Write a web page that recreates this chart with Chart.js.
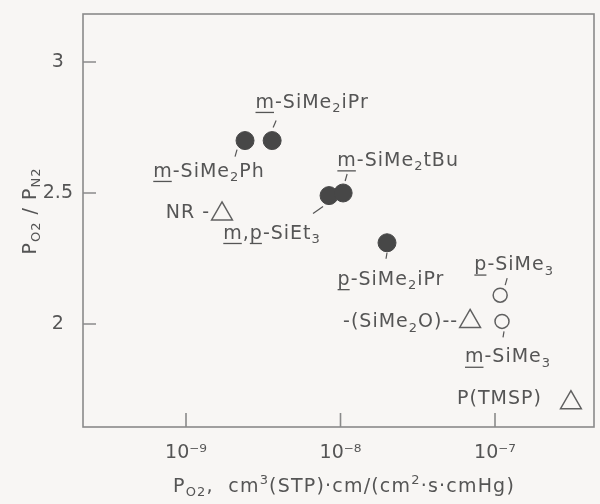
<!DOCTYPE html>
<html>
<head>
<meta charset="utf-8">
<script src="https://cdn.jsdelivr.net/npm/chart.js@4.4.0/dist/chart.umd.min.js"></script>
<style>
  html, body { margin: 0; padding: 0; background: #f8f6f4; }
  #wrap { width: 600px; height: 504px; }
</style>
</head>
<body>
<div id="wrap"><canvas id="permChart" width="600" height="504"></canvas></div>
<script>
// O2 permeability vs O2/N2 permselectivity of silyl-substituted polymers
// label markup: ~x~ underline, _{..} subscript, ^{..} superscript

const silylNames = ['~m~-SiMe_{2}Ph', '~m~-SiMe_{2}iPr', '~m~,~p~-SiEt_{3}', '~m~-SiMe_{2}tBu', '~p~-SiMe_{2}iPr'];
const silylPO2 = [2.41e-9, 3.61e-9, 8.43e-9, 1.04e-8, 2.0e-8];
const silylRatio = [2.70, 2.70, 2.49, 2.50, 2.31];

const trimethylNames = ['~p~-SiMe_{3}', '~m~-SiMe_{3}'];
const trimethylPO2 = [1.08e-7, 1.11e-7];
const trimethylRatio = [2.11, 2.01];

const refNames = ['NR -', '-(SiMe_{2}O)--', 'P(TMSP)'];
const refPO2 = [1.71e-9, 6.9e-8, 3.1e-7];
const refRatio = [2.42, 2.01, 1.70];

const xTicks = [1e-9, 1e-8, 1e-7];
const yTicks = [2, 2.5, 3];
const xTitle = 'P_{O2},  cm^{3}(STP)·cm/(cm^{2}·s·cmHg)';
const yTitle = 'P_{O2} / P_{N2}';

const INK = '#555';
const AXIS = '#8a8a8a';
const FONT = '"DejaVu Sans"';

function parseMarkup(str) {
    const parts = [];
    const re = /~([^~]*)~|_\{([^}]*)\}|\^\{([^}]*)\}/g;
    let last = 0, m;
    while ((m = re.exec(str))) {
        if (m.index > last) parts.push({ t: str.slice(last, m.index), k: 'n' });
        if (m[1] !== undefined) parts.push({ t: m[1], k: 'u' });
        else if (m[2] !== undefined) parts.push({ t: m[2], k: 'sub' });
        else parts.push({ t: m[3], k: 'sup' });
        last = re.lastIndex;
    }
    if (last < str.length) parts.push({ t: str.slice(last), k: 'n' });
    return parts;
}

function drawRich(ctx, str, x, y, size, align, spacing) {
    const parts = parseMarkup(str);
    const big = size + 'px ' + FONT;
    const small = Math.round(size * 0.7) + 'px ' + FONT;
    ctx.save();
    ctx.letterSpacing = (spacing || 0) + 'px';
    let w = 0;
    parts.forEach(p => {
        ctx.font = (p.k === 'sub' || p.k === 'sup') ? small : big;
        p.w = ctx.measureText(p.t).width;
        w += p.w;
    });
    let cx = align === 'left' ? x : (align === 'right' ? x - w : x - w / 2);
    ctx.fillStyle = INK;
    ctx.strokeStyle = INK;
    ctx.textAlign = 'left';
    ctx.textBaseline = 'middle';
    parts.forEach(p => {
        let dy = 0;
        if (p.k === 'sub') dy = size * 0.32;
        if (p.k === 'sup') dy = -size * 0.32;
        ctx.font = (p.k === 'sub' || p.k === 'sup') ? small : big;
        ctx.fillText(p.t, cx, y + dy);
        if (p.k === 'u') {
            ctx.lineWidth = 1.3;
            ctx.beginPath();
            ctx.moveTo(cx, y + size * 0.52);
            ctx.lineTo(cx + p.w - (spacing || 0), y + size * 0.52);
            ctx.stroke();
        }
        cx += p.w;
    });
    ctx.restore();
}

const toPoints = (xs, ys) => xs.map((x, i) => ({ x: x, y: ys[i] }));

// frame, inward ticks, axis titles and point labels
const decorPlugin = {
    id: 'decor',
    afterDatasetsDraw(chart) {
        const ctx = chart.ctx;
        const a = chart.chartArea;
        const xs = chart.scales.x, ys = chart.scales.y;
        ctx.save();
        ctx.strokeStyle = AXIS;
        ctx.lineWidth = 1.6;
        ctx.strokeRect(a.left, a.top, a.right - a.left, a.bottom - a.top);
        ctx.beginPath();
        xTicks.forEach(v => {
            const px = xs.getPixelForValue(v);
            ctx.moveTo(px, a.bottom);
            ctx.lineTo(px, a.bottom - 14);
        });
        yTicks.forEach(v => {
            const py = ys.getPixelForValue(v);
            ctx.moveTo(a.left, py);
            ctx.lineTo(a.left + 13, py);
        });
        ctx.stroke();
        ctx.restore();

        drawRich(ctx, xTitle, 344, 487, 19, 'center', 1.2);
        ctx.save();
        ctx.translate(31, 211);
        ctx.rotate(-Math.PI / 2);
        drawRich(ctx, yTitle, 0, 0, 19, 'center', 1);
        ctx.restore();

        chart.data.datasets.forEach((ds, di) => {
            const meta = chart.getDatasetMeta(di);
            meta.data.forEach((pt, i) => {
                const pos = ds.labelPos[i];
                drawRich(ctx, ds.names[i], pt.x + pos.dx, pt.y + pos.dy, 19, pos.align, 1);
                if (pos.lead) {
                    ctx.save();
                    ctx.strokeStyle = INK;
                    ctx.lineWidth = 1.2;
                    ctx.beginPath();
                    ctx.moveTo(pt.x + pos.lead[0], pt.y + pos.lead[1]);
                    ctx.lineTo(pt.x + pos.lead[2], pt.y + pos.lead[3]);
                    ctx.stroke();
                    ctx.restore();
                }
            });
        });
    }
};

const supDigits = { '-': '⁻', '0': '⁰', '1': '¹', '2': '²', '3': '³', '4': '⁴', '5': '⁵', '6': '⁶', '7': '⁷', '8': '⁸', '9': '⁹' };

const canvas = document.getElementById('permChart');
window.permChart = new Chart(canvas.getContext('2d'), {
    type: 'scatter',
    data: {
        datasets: [{
            data: toPoints(silylPO2, silylRatio),
            names: silylNames,
            pointStyle: 'circle',
            pointRadius: 9,
            backgroundColor: '#474747',
            borderColor: '#474747',
            borderWidth: 1,
            labelPos: [
                { dx: -36, dy: 31, align: 'center', lead: [-8, 9, -10, 16] },
                { dx: 40, dy: -38, align: 'center', lead: [4, -20, 1, -13] },
                { dx: -57, dy: 38, align: 'center', lead: [-16, 18, -6, 11] },
                { dx: 55, dy: -32, align: 'center', lead: [4, -19, 2, -12] },
                { dx: 4, dy: 37, align: 'center', lead: [0, 10, -1, 16] }
            ]
        }, {
            data: toPoints(trimethylPO2, trimethylRatio),
            names: trimethylNames,
            pointStyle: 'circle',
            pointRadius: 7,
            backgroundColor: 'rgba(0,0,0,0)',
            borderColor: '#606060',
            borderWidth: 1.5,
            labelPos: [
                { dx: 14, dy: -30, align: 'center', lead: [7, -17, 5, -10] },
                { dx: 6, dy: 36, align: 'center', lead: [2, 10, 1, 16] }
            ]
        }, {
            data: toPoints(refPO2, refRatio),
            names: refNames,
            pointStyle: 'triangle',
            pointRadius: 12,
            backgroundColor: 'rgba(0,0,0,0)',
            borderColor: '#606060',
            borderWidth: 1.5,
            labelPos: [
                { dx: -12, dy: -1, align: 'right' },
                { dx: -12, dy: 1, align: 'right' },
                { dx: -29, dy: -4, align: 'right' }
            ]
        }]
    },
    options: {
        responsive: false,
        animation: false,
        layout: { autoPadding: false, padding: { top: 14, right: 6, left: 0, bottom: 0 } },
        plugins: { legend: { display: false }, tooltip: { enabled: false } },
        scales: {
            x: {
                type: 'logarithmic',
                min: 2.154e-10,
                max: 4.373e-7,
                afterBuildTicks: s => { s.ticks = xTicks.map(v => ({ value: v })); },
                afterFit: s => { s.height = 77; s.paddingLeft = 0; s.paddingRight = 0; },
                grid: { display: false, drawTicks: false },
                border: { display: false },
                ticks: {
                    padding: 15,
                    color: INK,
                    font: { family: FONT, size: 19 },
                    maxRotation: 0,
                    callback: v => '10' + String(Math.round(Math.log10(v))).split('').map(c => supDigits[c]).join('')
                }
            },
            y: {
                min: 1.607,
                max: 3.183,
                afterBuildTicks: s => { s.ticks = yTicks.map(v => ({ value: v })); },
                afterFit: s => { s.width = 83; s.paddingTop = 0; s.paddingBottom = 0; },
                grid: { display: false, drawTicks: false },
                border: { display: false },
                ticks: {
                    padding: 10,
                    crossAlign: 'center',
                    color: INK,
                    font: { family: FONT, size: 19 },
                    callback: v => String(v)
                }
            }
        }
    },
    plugins: [decorPlugin]
});
</script>
</body>
</html>
